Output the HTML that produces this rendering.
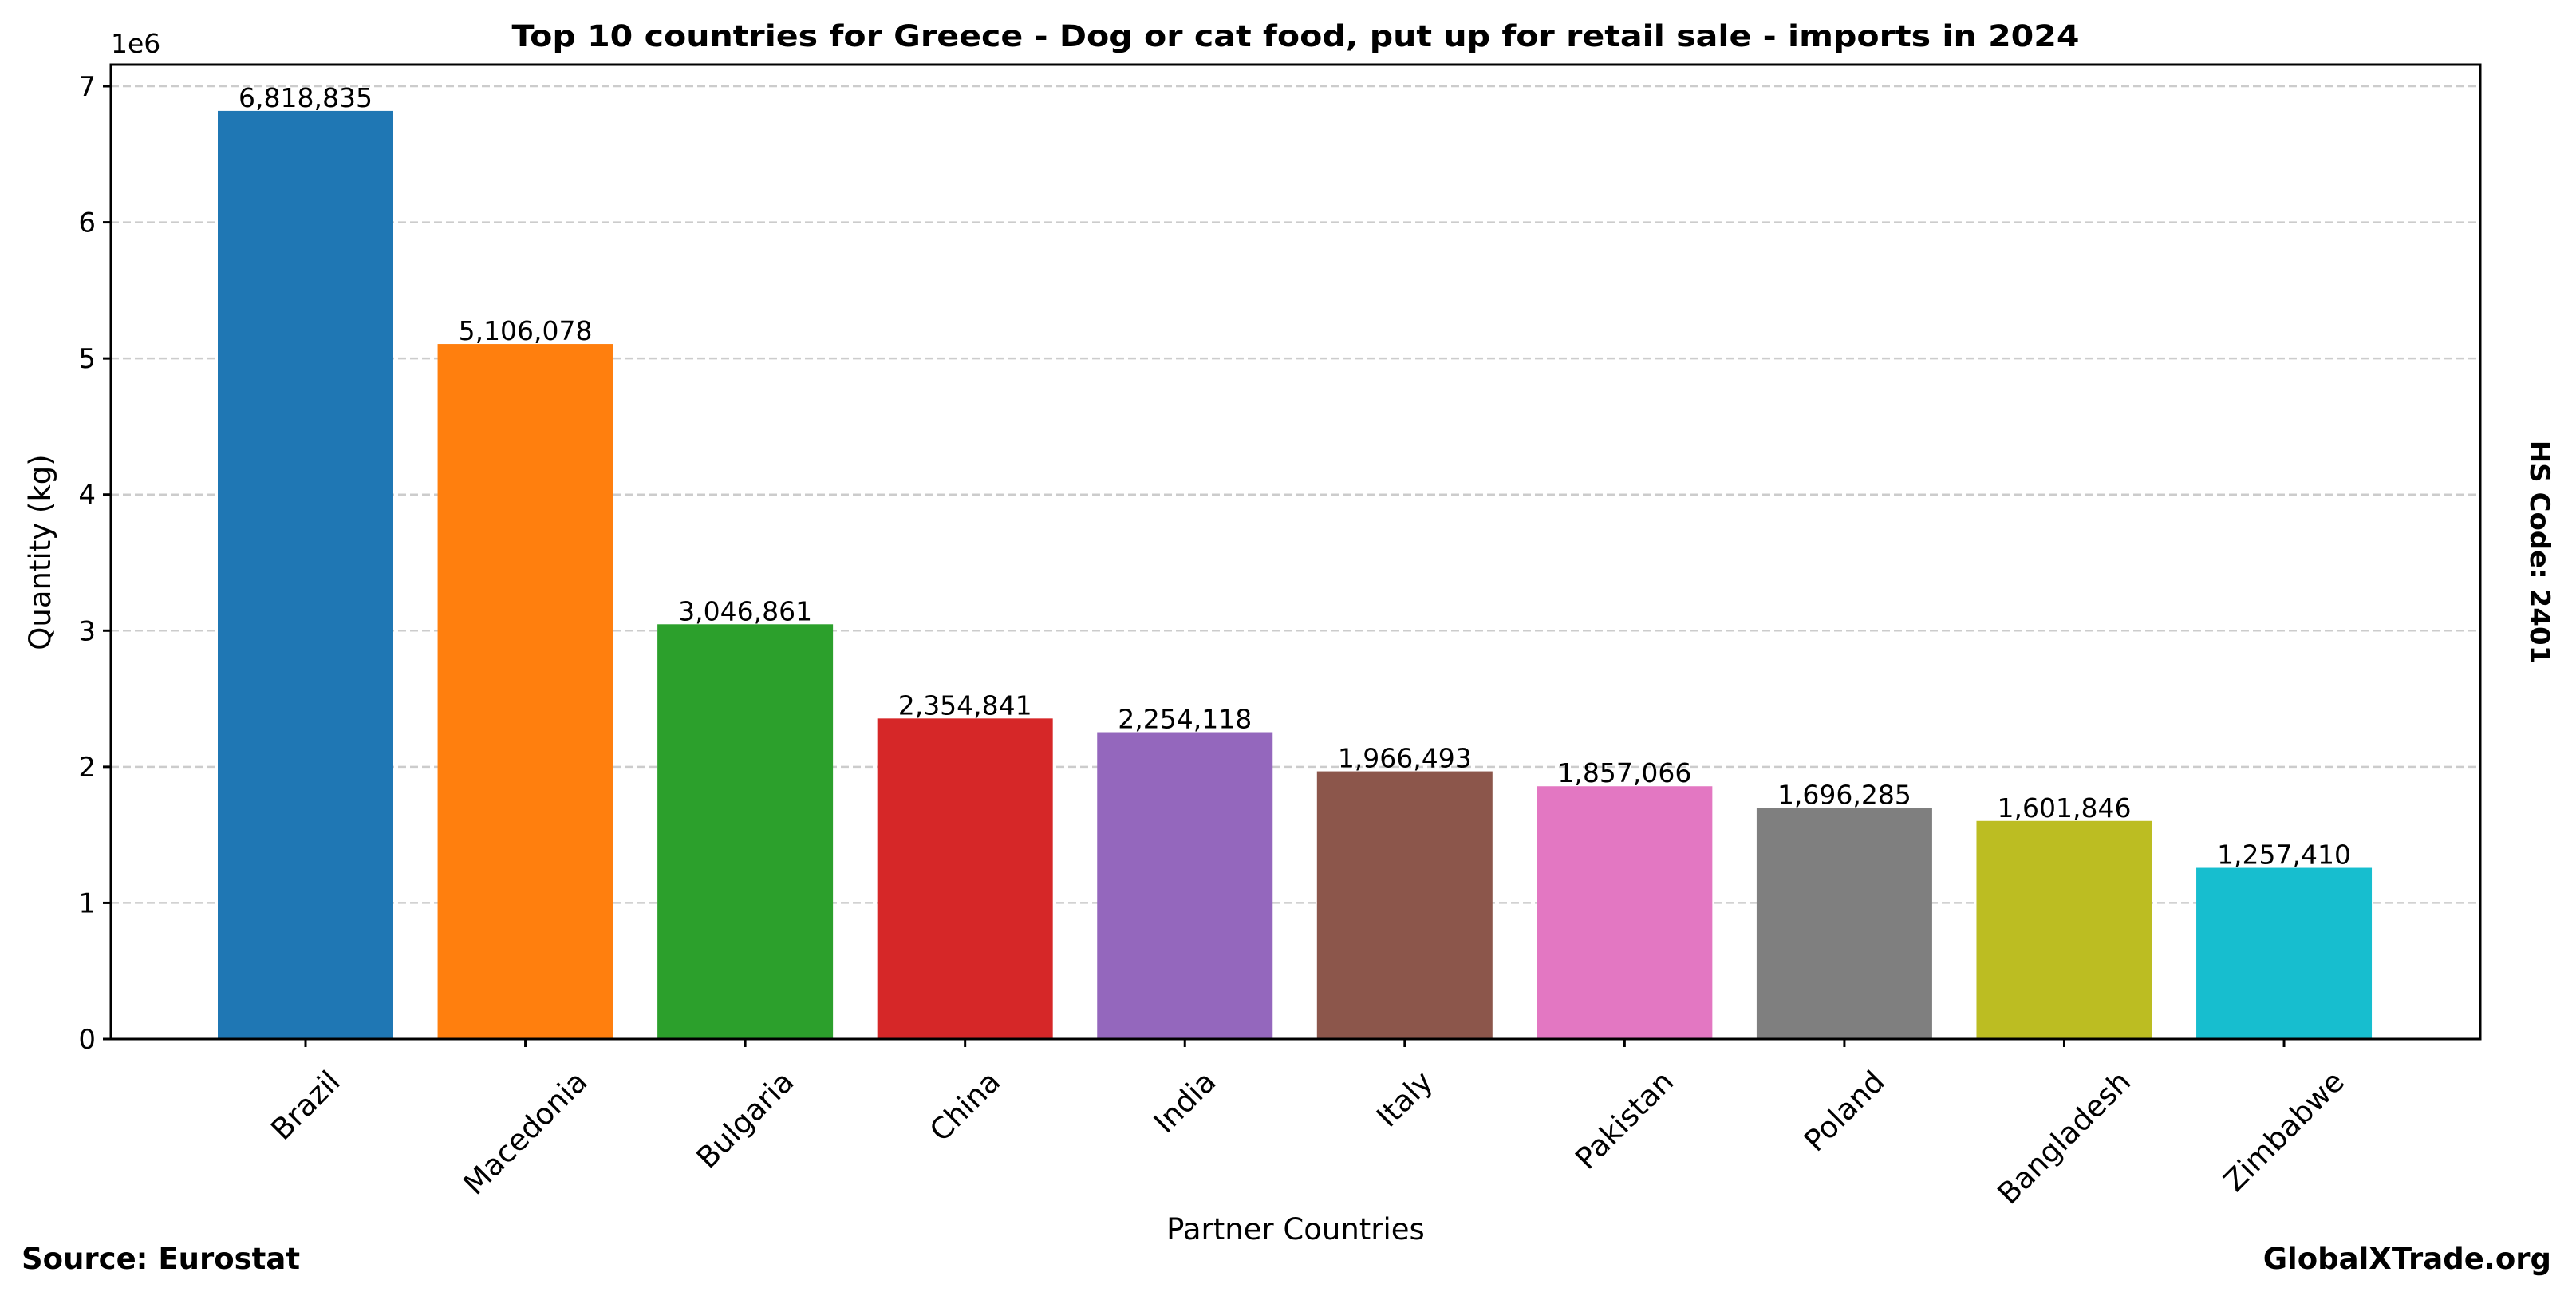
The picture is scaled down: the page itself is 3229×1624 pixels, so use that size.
<!DOCTYPE html>
<html><head><meta charset="utf-8"><style>
html,body{margin:0;padding:0;background:#fff}
svg{display:block}
text{font-family:"DejaVu Sans","Liberation Sans",sans-serif;fill:#000}
</style></head><body>
<svg id="s" width="3229" height="1624" viewBox="0 0 3229 1624" xmlns="http://www.w3.org/2000/svg">
<rect width="3229" height="1624" fill="#fff"/>
<g id="grid" stroke="#cccccc" stroke-width="2.5" stroke-dasharray="10,5"></g>
<g id="bars"></g>
<rect x="139" y="81" width="2970" height="1221" fill="none" stroke="#000" stroke-width="3"/>
<g id="ticks" stroke="#000" stroke-width="3"></g>
<g id="labels"></g>
<text x="139" y="66" font-size="33">1e6</text>
<text x="1624" y="58" font-size="37" font-weight="bold" text-anchor="middle" textLength="1965" lengthAdjust="spacingAndGlyphs">Top 10 countries for Greece - Dog or cat food, put up for retail sale - imports in 2024</text>
<text x="1624" y="1553" font-size="37" text-anchor="middle">Partner Countries</text>
<text transform="translate(63,692) rotate(-90)" font-size="37" text-anchor="middle">Quantity (kg)</text>
<text transform="translate(3172,692) rotate(90)" font-size="34" font-weight="bold" text-anchor="middle">HS Code: 2401</text>
<text x="27" y="1590" font-size="37" font-weight="bold">Source: Eurostat</text>
<text x="3198" y="1590" font-size="37" font-weight="bold" text-anchor="end">GlobalXTrade.org</text>
</svg>
<script>
var NS="http://www.w3.org/2000/svg";
var data=[["Brazil",6818835,"#1f77b4"],["Macedonia",5106078,"#ff7f0e"],["Bulgaria",3046861,"#2ca02c"],["China",2354841,"#d62728"],["India",2254118,"#9467bd"],["Italy",1966493,"#8c564b"],["Pakistan",1857066,"#e377c2"],["Poland",1696285,"#7f7f7f"],["Bangladesh",1601846,"#bcbd22"],["Zimbabwe",1257410,"#17becf"]];
var y0=1302,k=170.57,x0=383,dx=275.56,bw=220;
function el(t,a,p,txt){var e=document.createElementNS(NS,t);for(var i in a)e.setAttribute(i,a[i]);if(txt!=null)e.textContent=txt;document.getElementById(p).appendChild(e);return e;}
for(var v=1;v<=7;v++){var y=y0-v*k;el("line",{x1:139,x2:3109,y1:y,y2:y},"grid");}
for(var v=0;v<=7;v++){var y=y0-v*k;el("line",{x1:129,x2:139,y1:y,y2:y},"ticks");el("text",{x:120,y:y+12,"font-size":34,"text-anchor":"end"},"labels",String(v));}
data.forEach(function(d,i){
 var cx=x0+i*dx,h=d[1]/1e6*k;
 el("rect",{x:cx-bw/2,y:y0-h,width:bw,height:h,fill:d[2]},"bars");
 el("line",{x1:cx,x2:cx,y1:y0,y2:y0+10},"ticks");
 el("text",{x:cx,y:y0-h-5,"font-size":33,"text-anchor":"middle"},"labels",d[1].toLocaleString("en-US"));
 var t=el("text",{x:0,y:0,"font-size":37,"text-anchor":"middle","dominant-baseline":"central"},"labels",d[0]);
 var L=t.getComputedTextLength(),hh=42;
 var bh=(L+hh)*0.7071;
 t.setAttribute("transform","translate("+cx+","+(1334+bh/2)+") rotate(-45)");
});
</script>
</body></html>
